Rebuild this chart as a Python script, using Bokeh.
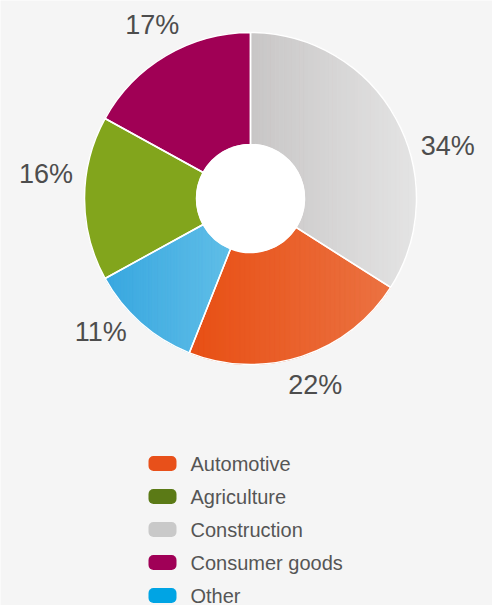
import numpy as np
from bokeh.plotting import figure
from bokeh.models import ColumnDataSource, Range1d
from bokeh.core.properties import value
from bokeh.embed import file_html
from bokeh.resources import INLINE

# ---------------- data ----------------
slice_names = ["Construction", "Automotive", "Other", "Agriculture", "Consumer goods"]
slice_shares = [34, 22, 11, 16, 17]
slice_labels = ["34%", "22%", "11%", "16%", "17%"]
legend_names = ["Automotive", "Agriculture", "Construction", "Consumer goods", "Other"]

# ---------------- styles ----------------
slice_color_left = {
    "Construction": "#c8c6c6",
    "Automotive": "#e84f14",
    "Other": "#38a7e0",
    "Agriculture": "#82a51c",
    "Consumer goods": "#a00055",
}
slice_color_right = {
    "Construction": "#e4e4e4",
    "Automotive": "#eb7242",
    "Other": "#60bee7",
    "Agriculture": "#82a51c",
    "Consumer goods": "#a00055",
}
legend_colors = {
    "Automotive": "#e8501a",
    "Agriculture": "#5b7a16",
    "Construction": "#c9c9c9",
    "Consumer goods": "#a00057",
    "Other": "#00a4e4",
}
BG = "#f5f5f5"
TEXT = "#4d4d4d"

# ---------------- layout ----------------
W, H = 492, 605
CX, CY = 250, H - 198
R_OUT, R_IN = 166, 54
label_radius = [204, 197, 201, 206, 199]
label_nudge_deg = [14, -1.2, 6.8, 6.8, 1]  # clockwise shift of each label
LEG_X0, LEG_X1 = 148, 176
LEG_TOP = H - 463
LEG_STEP = 33
LEG_H = 15
LEG_TEXT_X = 190


def hex2rgb(h):
    h = h.lstrip("#")
    return np.array([int(h[i:i + 2], 16) for i in (0, 2, 4)], dtype=float)


def rgb2hex(c):
    c = np.clip(np.round(c), 0, 255).astype(int)
    return "#%02x%02x%02x" % tuple(c)


def clip_half(poly, xv, keep_greater):
    out = []
    n = len(poly)
    def inside(pt):
        return pt[0] >= xv if keep_greater else pt[0] <= xv
    def inter(p1, p2):
        t = (xv - p1[0]) / (p2[0] - p1[0])
        return (xv, p1[1] + t * (p2[1] - p1[1]))
    for i in range(n):
        cur, prev = poly[i], poly[i - 1]
        ci, pi_ = inside(cur), inside(prev)
        if ci:
            if not pi_:
                out.append(inter(prev, cur))
            out.append(cur)
        elif pi_:
            out.append(inter(prev, cur))
    return out


frac = np.array(slice_shares, dtype=float) / sum(slice_shares)
cum = np.concatenate([[0.0], np.cumsum(frac)])
start_ang = np.pi / 2 - 2 * np.pi * cum[1:]
end_ang = np.pi / 2 - 2 * np.pi * cum[:-1]
mid_ang = (start_ang + end_ang) / 2

p = figure(width=W, height=H, x_range=Range1d(0, W), y_range=Range1d(0, H),
           output_backend="svg", toolbar_location=None, min_border=0,
           x_axis_location=None, y_axis_location=None,
           background_fill_color=BG, border_fill_color=BG, outline_line_color=None)
p.grid.visible = False

base_colors = [rgb2hex((hex2rgb(slice_color_left[n]) + hex2rgb(slice_color_right[n])) / 2)
               for n in slice_names]
src = ColumnDataSource(dict(name=slice_names, share=slice_shares,
                            start=start_ang, end=end_ang, color=base_colors))
p.annular_wedge(x=CX, y=CY, inner_radius=R_IN, outer_radius=R_OUT,
                start_angle="start", end_angle="end", direction="anticlock",
                fill_color="color", line_color="color", line_width=0.5, source=src)

# horizontal gradient overlay built from each slice's own geometry
gx, gy, gc = [], [], []
for i, n in enumerate(slice_names):
    c0, c1 = hex2rgb(slice_color_left[n]), hex2rgb(slice_color_right[n])
    if np.allclose(c0, c1):
        continue
    t = np.linspace(start_ang[i], end_ang[i], 200)
    ox, oy = CX + R_OUT * np.cos(t), CY + R_OUT * np.sin(t)
    ix, iy = CX + R_IN * np.cos(t[::-1]), CY + R_IN * np.sin(t[::-1])
    poly = list(zip(np.concatenate([ox, ix]), np.concatenate([oy, iy])))
    xmin = min(pt[0] for pt in poly)
    xmax = max(pt[0] for pt in poly)
    nstrip = 40
    edges = np.linspace(xmin, xmax, nstrip + 1)
    for k in range(nstrip):
        a, b = edges[k], edges[k + 1]
        pc = clip_half(poly, a, True)
        if len(pc) < 3:
            continue
        pc = clip_half(pc, b, False)
        if len(pc) < 3:
            continue
        f = (k + 0.5) / nstrip
        gx.append([pt[0] for pt in pc])
        gy.append([pt[1] for pt in pc])
        gc.append(rgb2hex(c0 + (c1 - c0) * f))
p.patches(xs=gx, ys=gy, fill_color=gc, line_color=gc, line_width=0.6)

# white separators / outline
p.annular_wedge(x=CX, y=CY, inner_radius=R_IN, outer_radius=R_OUT,
                start_angle="start", end_angle="end", direction="anticlock",
                fill_color=None, line_color="white", line_width=1.5, source=src)
# white hole
p.circle(x=[CX], y=[CY], radius=R_IN + 0.5, fill_color="white", line_color=None)

# percentage labels
la = mid_ang - np.deg2rad(label_nudge_deg)
rl = np.array(label_radius, dtype=float)
lsrc = ColumnDataSource(dict(x=CX + rl * np.cos(la), y=CY + rl * np.sin(la),
                             text=slice_labels))
p.text(x="x", y="y", text="text", source=lsrc, text_align="center",
       text_baseline="middle", text_font=value("Liberation Sans"),
       text_font_size="27px", text_color=TEXT)

# legend
ly = np.array([LEG_TOP - k * LEG_STEP for k in range(len(legend_names))], dtype=float)
leg = ColumnDataSource(dict(name=legend_names, y=ly,
                            color=[legend_colors[n] for n in legend_names]))
p.quad(left=LEG_X0, right=LEG_X1, top=ly + LEG_H / 2, bottom=ly - LEG_H / 2,
       fill_color=[legend_colors[n] for n in legend_names], line_color=None,
       border_radius=5)
p.text(x=LEG_TEXT_X, y="y", text="name", source=leg, text_align="left",
       text_baseline="middle", text_font=value("Liberation Sans"),
       text_font_size="20px", text_color="#555555")

open("out.html", "w").write(file_html(p, INLINE))
